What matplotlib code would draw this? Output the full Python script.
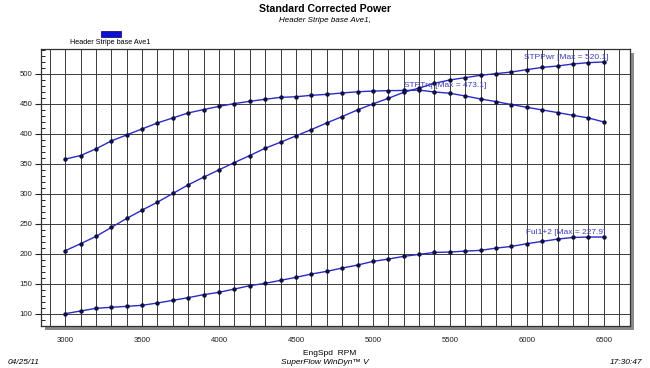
import matplotlib.pyplot as plt
from matplotlib.patches import Rectangle
from matplotlib.ticker import MultipleLocator

plt.rcParams['font.family'] = ['Liberation Sans', 'DejaVu Sans']

# Engine speed (RPM)
rpm = [3000, 3100, 3200, 3300, 3400, 3500, 3600, 3700, 3800, 3900,
       4000, 4100, 4200, 4300, 4400, 4500, 4600, 4700, 4800, 4900,
       5000, 5100, 5200, 5300, 5400, 5500, 5600, 5700, 5800, 5900,
       6000, 6100, 6200, 6300, 6400, 6500]

# STPTrq
torque = [357.8, 363.9, 375.0, 388.3, 398.3, 408.3, 418.3, 426.7, 435.0, 440.6,
          446.0, 450.6, 454.4, 457.8, 461.0, 462.0, 464.4, 466.0, 468.3, 470.3,
          471.5, 472.2, 472.5, 473.1, 470.0, 467.8, 463.3, 458.3, 453.9, 449.0,
          444.4, 440.0, 435.6, 431.0, 426.7, 420.0]

# STPPwr
power = [205.0, 216.7, 228.9, 243.9, 258.9, 272.8, 286.1, 300.6, 315.0, 327.8,
         340.0, 352.2, 363.9, 376.1, 386.1, 396.7, 407.2, 418.3, 428.9, 440.0,
         450.0, 459.4, 469.4, 476.5, 484.4, 490.0, 493.9, 497.8, 500.6, 503.3,
         507.2, 511.0, 513.3, 516.7, 518.9, 520.1]

# Ful1+2
fuel = [100.0, 104.4, 108.9, 110.6, 112.2, 113.9, 117.8, 122.2, 126.7, 131.7,
        135.6, 141.1, 146.7, 150.6, 155.6, 160.6, 166.1, 170.6, 176.1, 181.1,
        187.2, 191.1, 195.6, 198.9, 202.2, 202.8, 204.4, 205.6, 209.4, 212.2,
        216.7, 220.6, 224.4, 227.2, 227.9, 227.9]

line_col = '#2a2ac8'
text_col = '#3c3cb4'

fig = plt.figure(figsize=(6.5, 3.68), dpi=100)
ax = fig.add_axes([41 / 650, 1 - 326 / 368, 589 / 650, 277 / 368])
ax.set_zorder(2)

# grey drop shadow behind the plot box
shadow = Rectangle((45 / 650, 1 - 330 / 368), 589 / 650, 277 / 368,
                   transform=fig.transFigure, facecolor='#8a8a8a',
                   edgecolor='none', zorder=0)
fig.add_artist(shadow)

for y in [torque, power, fuel]:
    ax.plot(rpm, y, color=line_col, lw=1.0, marker='o', ms=2.2,
            mfc='#101040', mec='#101040', zorder=3)

ax.set_xlim(2843, 6671)
ax.set_ylim(79.4, 541.7)
ax.set_xticks([3000, 3500, 4000, 4500, 5000, 5500, 6000, 6500])
ax.set_yticks([100, 150, 200, 250, 300, 350, 400, 450, 500])
ax.yaxis.set_minor_locator(MultipleLocator(10))

for gx in range(2900, 6700, 100):
    ax.axvline(gx, color='#3a3a3a', lw=0.7, zorder=1)
for gy in range(100, 501, 50):
    ax.axhline(gy, color='#3a3a3a', lw=0.7, zorder=1)

ax.tick_params(axis='both', labelsize=5.6, colors='#202020', pad=2)
ax.tick_params(axis='x', length=0, pad=8)
ax.tick_params(axis='y', which='major', length=4, direction='out')
ax.tick_params(axis='y', which='minor', length=3, direction='in')
for s in ax.spines.values():
    s.set_color('#303030')
    s.set_linewidth(0.9)

ax.text(6530, 527.7, 'STPPwr [Max = 520.1]', color=text_col, fontsize=6,
        ha='right', va='center', zorder=4)
ax.text(5205, 480.5, 'STPTrq [Max = 473.1]', color=text_col, fontsize=6,
        ha='left', va='center', zorder=4)
ax.text(6510, 236, 'Ful1+2 [Max = 227.9]', color=text_col, fontsize=6,
        ha='right', va='center', zorder=4)

fig.text(0.5, 1 - 9 / 368, 'Standard Corrected Power', fontsize=7.6,
         fontweight='bold', ha='center', va='center')
fig.text(0.5, 1 - 20 / 368, 'Header Stripe base Ave1,', fontsize=5.8,
         style='italic', ha='center', va='center')

# legend
fig.add_artist(Rectangle((101 / 650, 1 - 37 / 368), 20 / 650, 6 / 368,
                         transform=fig.transFigure, facecolor='#1010d0',
                         edgecolor='#000060', lw=0.5))
fig.text(110 / 650, 1 - 43 / 368, 'Header Stripe base Ave1', fontsize=5.2,
         ha='center', va='center')

ax.set_xlabel('EngSpd  RPM', fontsize=6, labelpad=1)
ax.xaxis.set_label_coords(0.49, -0.085)

fig.text(8 / 650, 1 - 362 / 368, '04/25/11', fontsize=6, style='italic',
         ha='left', va='center')
fig.text(325 / 650, 1 - 362 / 368, 'SuperFlow WinDyn\u2122 V', fontsize=6,
         style='italic', ha='center', va='center')
fig.text(642 / 650, 1 - 362 / 368, '17:30:47', fontsize=6, style='italic',
         ha='right', va='center')

fig.savefig('out.png', dpi=100)
